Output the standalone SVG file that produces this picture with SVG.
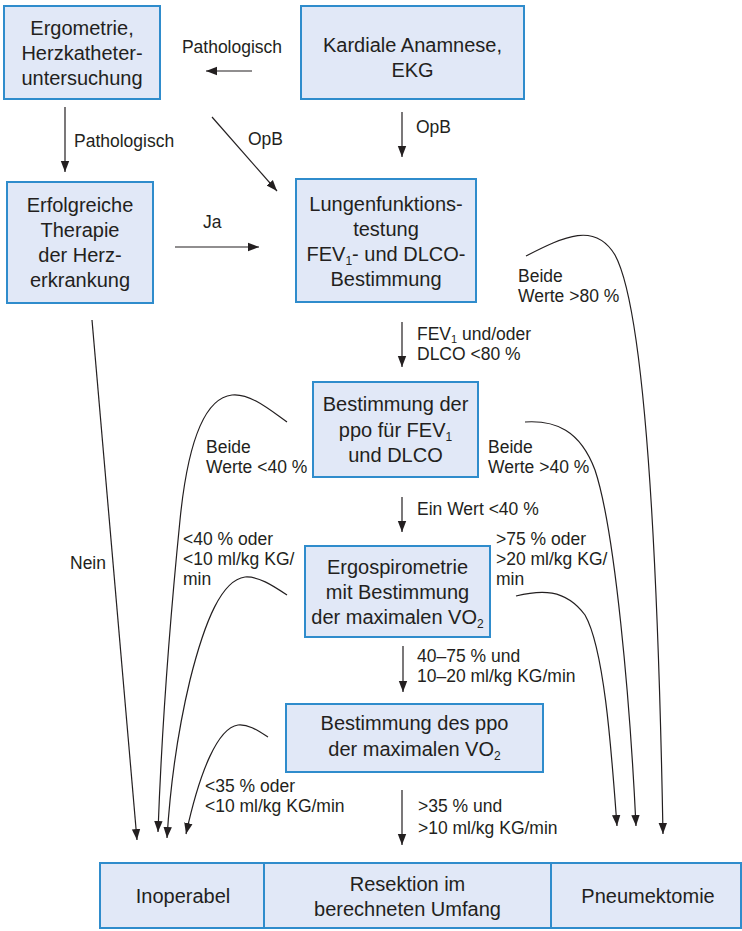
<svg xmlns="http://www.w3.org/2000/svg" width="742" height="931" viewBox="0 0 742 931">
<style>
.box{fill:#e1e8f7;stroke:#2f8ccc;stroke-width:2}
.bt{font-family:"Liberation Sans",Arial,sans-serif;font-size:20px;fill:#231f20;text-anchor:middle}
.lb{font-family:"Liberation Sans",Arial,sans-serif;font-size:17.5px;fill:#231f20}
.c{fill:none;stroke:#231f20;stroke-width:1.2;marker-end:url(#ah)}
</style>
<defs>
<marker id="ah" markerUnits="userSpaceOnUse" markerWidth="11" markerHeight="10" refX="11" refY="5" orient="auto">
<path d="M0,0.8 L11,5 L0,9.2 z" fill="#231f20"/>
</marker>
</defs>
<g id="connectors">
<path class="c" d="M252,71 L206,71"/>
<path class="c" d="M65,107 L65,172"/>
<path class="c" d="M212,117 L277,191"/>
<path class="c" d="M175,247 L259,247"/>
<path class="c" d="M402,112 L402,157"/>
<path class="c" d="M402,322 L402,367"/>
<path class="c" d="M402,497 L402,532"/>
<path class="c" d="M403,646 L403,692"/>
<path class="c" d="M402,790 L402,845"/>
<path class="c" d="M92,320 L137,840"/>
<path class="c" d="M287,422 C270,410 250,393 232,395 C205,398 188,440 180,520 C172,600 162,720 158,832"/>
<path class="c" d="M287,595 C272,585 258,576 245,577 C222,580 205,620 190,680 C178,730 170,790 167,838"/>
<path class="c" d="M268,737 C257,730 248,724 238,725 C218,728 200,770 186,834"/>
<path class="c" d="M526,256 C565,236 595,222 615,255 C645,310 658,560 663,834"/>
<path class="c" d="M525,422 C555,420 580,430 595,470 C615,530 630,700 636,826"/>
<path class="c" d="M516,596 C540,590 565,588 585,615 C605,650 612,760 617,826"/>
</g>
<g id="labels">
<text class="lb" x="232" y="53" text-anchor="middle">Pathologisch</text>
<text class="lb" x="74" y="147">Pathologisch</text>
<text class="lb" x="248" y="145">OpB</text>
<text class="lb" x="416" y="133">OpB</text>
<text class="lb" x="203" y="228">Ja</text>
<text class="lb" x="518" y="282">Beide</text>
<text class="lb" x="518" y="302">Werte &gt;80 %</text>
<text class="lb" x="417" y="340">FEV<tspan font-size="11" dy="3">1</tspan><tspan dy="-3"> und/oder</tspan></text>
<text class="lb" x="417" y="360">DLCO &lt;80 %</text>
<text class="lb" x="206" y="453">Beide</text>
<text class="lb" x="206" y="473">Werte &lt;40 %</text>
<text class="lb" x="488" y="453">Beide</text>
<text class="lb" x="488" y="473">Werte &gt;40 %</text>
<text class="lb" x="417" y="515">Ein Wert &lt;40 %</text>
<text class="lb" x="183" y="545">&lt;40 % oder</text>
<text class="lb" x="183" y="565">&lt;10 ml/kg KG/</text>
<text class="lb" x="183" y="585">min</text>
<text class="lb" x="496" y="545">&gt;75 % oder</text>
<text class="lb" x="496" y="565">&gt;20 ml/kg KG/</text>
<text class="lb" x="496" y="585">min</text>
<text class="lb" x="70" y="569">Nein</text>
<text class="lb" x="417" y="662">40–75 % und</text>
<text class="lb" x="417" y="682">10–20 ml/kg KG/min</text>
<text class="lb" x="205" y="792">&lt;35 % oder</text>
<text class="lb" x="205" y="812">&lt;10 ml/kg KG/min</text>
<text class="lb" x="418" y="812">&gt;35 % und</text>
<text class="lb" x="418" y="834">&gt;10 ml/kg KG/min</text>
</g>
<g id="n-ergometrie">
<rect class="box" x="4" y="6" width="156" height="93"/>
<text class="bt" x="82" y="35">Ergometrie,</text>
<text class="bt" x="82" y="60">Herzkatheter-</text>
<text class="bt" x="82" y="85">untersuchung</text>
</g>
<g id="n-kardiale">
<rect class="box" x="301" y="6" width="223" height="93"/>
<text class="bt" x="412.5" y="52">Kardiale Anamnese,</text>
<text class="bt" x="412.5" y="77">EKG</text>
</g>
<g id="n-therapie">
<rect class="box" x="7" y="182" width="146" height="121"/>
<text class="bt" x="80" y="212">Erfolgreiche</text>
<text class="bt" x="80" y="237">Therapie</text>
<text class="bt" x="80" y="262">der Herz-</text>
<text class="bt" x="80" y="287">erkrankung</text>
</g>
<g id="n-lungenfunktion">
<rect class="box" x="296" y="179" width="180" height="123"/>
<text class="bt" x="386" y="211">Lungenfunktions-</text>
<text class="bt" x="386" y="236">testung</text>
<text class="bt" x="386" y="261">FEV<tspan font-size="12" dy="4">1</tspan><tspan dy="-4">- und DLCO-</tspan></text>
<text class="bt" x="386" y="286">Bestimmung</text>
</g>
<g id="n-ppo">
<rect class="box" x="313" y="382" width="165" height="95"/>
<text class="bt" x="395.5" y="411">Bestimmung der</text>
<text class="bt" x="395.5" y="437">ppo für FEV<tspan font-size="12" dy="4">1</tspan></text>
<text class="bt" x="395.5" y="462">und DLCO</text>
</g>
<g id="n-ergospirometrie">
<rect class="box" x="305" y="546" width="185" height="91"/>
<text class="bt" x="397.5" y="574">Ergospirometrie</text>
<text class="bt" x="397.5" y="599">mit Bestimmung</text>
<text class="bt" x="397.5" y="624">der maximalen VO<tspan font-size="12" dy="4">2</tspan></text>
</g>
<g id="n-ppo-vo2">
<rect class="box" x="286" y="704" width="257" height="68"/>
<text class="bt" x="414.5" y="730">Bestimmung des ppo</text>
<text class="bt" x="414.5" y="756">der maximalen VO<tspan font-size="12" dy="4">2</tspan></text>
</g>
<g id="n-inoperabel">
<rect class="box" x="100" y="863" width="164" height="65"/>
<text class="bt" x="183" y="903">Inoperabel</text>
</g>
<g id="n-resektion">
<rect class="box" x="264" y="863" width="287" height="65"/>
<text class="bt" x="407.5" y="891">Resektion im</text>
<text class="bt" x="407.5" y="916">berechneten Umfang</text>
</g>
<g id="n-pneumektomie">
<rect class="box" x="551" y="863" width="190" height="65"/>
<text class="bt" x="648" y="903">Pneumektomie</text>
</g>
</svg>
